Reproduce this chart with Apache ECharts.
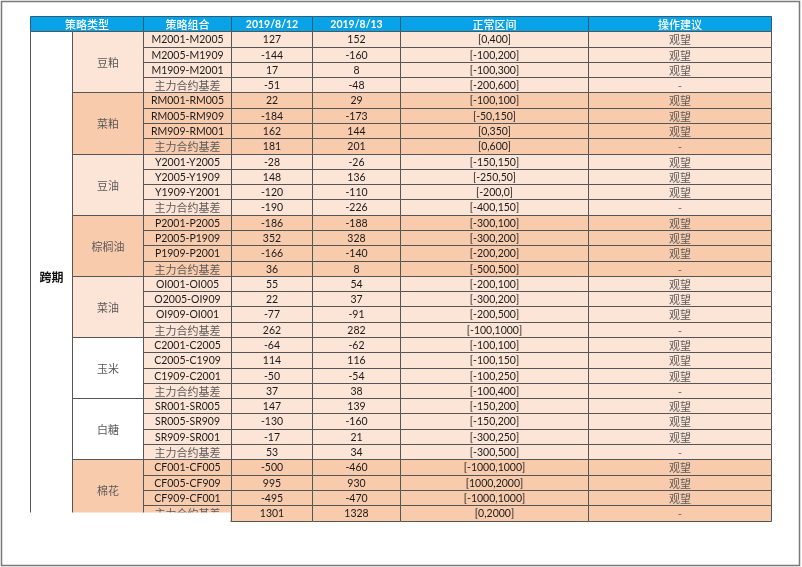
<!DOCTYPE html>
<html><head><meta charset="utf-8">
<script src="https://cdn.jsdelivr.net/npm/echarts@6/dist/echarts.min.js"></script>
<style>html,body{margin:0;padding:0;background:#fff}#c{width:802px;height:567px}</style>
</head><body><div id="c"></div>
<script>
const headers = ['策略类型','策略组合','2019/8/12','2019/8/13','正常区间','操作建议'];
const groupType = '跨期';
const products = ['豆粕','菜粕','豆油','棕榈油','菜油','玉米','白糖','棉花'];
const combos = [
 'M2001-M2005','M2005-M1909','M1909-M2001','主力合约基差',
 'RM001-RM005','RM005-RM909','RM909-RM001','主力合约基差',
 'Y2001-Y2005','Y2005-Y1909','Y1909-Y2001','主力合约基差',
 'P2001-P2005','P2005-P1909','P1909-P2001','主力合约基差',
 'OI001-OI005','O2005-OI909','OI909-OI001','主力合约基差',
 'C2001-C2005','C2005-C1909','C1909-C2001','主力合约基差',
 'SR001-SR005','SR005-SR909','SR909-SR001','主力合约基差',
 'CF001-CF005','CF005-CF909','CF909-CF001','主力合约基差'];
const v0812 = [127,-144,17,-51, 22,-184,162,181, -28,148,-120,-190, -186,352,-166,36,
               55,22,-77,262, -64,114,-50,37, 147,-130,-17,53, -500,995,-495,1301];
const v0813 = [152,-160,8,-48, 29,-173,144,201, -26,136,-110,-226, -188,328,-140,8,
               54,37,-91,282, -62,116,-54,38, 139,-160,21,34, -460,930,-470,1328];
const ranges = ['[0,400]','[-100,200]','[-100,300]','[-200,600]',
 '[-100,100]','[-50,150]','[0,350]','[0,600]',
 '[-150,150]','[-250,50]','[-200,0]','[-400,150]',
 '[-300,100]','[-300,200]','[-200,200]','[-500,500]',
 '[-200,100]','[-300,200]','[-200,500]','[-100,1000]',
 '[-100,100]','[-100,150]','[-100,250]','[-100,400]',
 '[-150,200]','[-150,200]','[-300,250]','[-300,500]',
 '[-1000,1000]','[1000,2000]','[-1000,1000]','[0,2000]'];
const advice = ['观望','观望','观望','-','观望','观望','观望','-','观望','观望','观望','-','观望','观望','观望','-',
 '观望','观望','观望','-','观望','观望','观望','-','观望','观望','观望','-','观望','观望','观望','-'];

// layout / style (not data)
const colEdges = [0,42,113,201,282,370,558,741];
const LIGHT = '#FCE4D6', DARK = '#F8CBAD', WHITE = '#FFFFFF', BLUE = '#08A2E6';
const groupFill = [LIGHT, DARK, LIGHT, DARK, LIGHT, LIGHT, LIGHT, DARK];
const productFill = [LIGHT, DARK, LIGHT, DARK, LIGHT, WHITE, WHITE, DARK];

const cells = [];
headers.forEach((h,i)=>{
  const isNum = /\d/.test(h);
  if(i===0) cells.push({c0:0,c1:2,r0:0,r1:1,text:h,fill:BLUE,kind:'head'});
  else cells.push({c0:i+1,c1:i+2,r0:0,r1:1,text:h,fill:BLUE,kind:isNum?'headNum':'head'});
});
cells.push({c0:0,c1:1,r0:1,r1:33,text:groupType,fill:WHITE,kind:'type'});
products.forEach((p,g)=>{
  cells.push({c0:1,c1:2,r0:1+4*g,r1:5+4*g,text:p,fill:productFill[g],kind:'cn'});
});
combos.forEach((cb,j)=>{
  const r = 1+j, f = groupFill[Math.floor(j/4)];
  const isCn = /[\u4e00-\u9fa5]/.test(cb);
  cells.push({c0:2,c1:3,r0:r,r1:r+1,text:cb,fill:f,kind:isCn?'cn':'num'});
  cells.push({c0:3,c1:4,r0:r,r1:r+1,text:String(v0812[j]),fill:f,kind:'num'});
  cells.push({c0:4,c1:5,r0:r,r1:r+1,text:String(v0813[j]),fill:f,kind:'num'});
  cells.push({c0:5,c1:6,r0:r,r1:r+1,text:ranges[j],fill:f,kind:'num'});
  cells.push({c0:6,c1:7,r0:r,r1:r+1,text:advice[j],fill:f,kind:'cn'});
});
// page-cut cover over the bottom-left part of the last row
cells.push({c0:0,c1:3,r0:32.47,r1:33.3,text:'',fill:WHITE,kind:'cover'});

const styles = {
  head:{color:'#FFFFFF',font:'500 11px "Noto Sans CJK SC", "Noto Sans", sans-serif'},
  headNum:{color:'#FFFFFF',font:'bold 10.5px Lato, "Noto Sans", sans-serif'},
  type:{color:'#111111',font:'bold 12px "Noto Sans CJK SC", sans-serif'},
  cn:{color:'#5a5a5a',font:'11px "Noto Sans CJK SC", sans-serif'},
  num:{color:'#1a1a1a',font:'10.5px Lato, "Noto Sans", sans-serif'}
};

const chart = echarts.init(document.getElementById('c'), null, {renderer:'canvas'});
chart.setOption({
  animation:false,
  graphic:[{type:'rect',shape:{x:1.5,y:1.5,width:798,height:564},style:{fill:'none',stroke:'#7a7a7a',lineWidth:1.5},silent:true,z:0}],
  grid:{left:30,right:31,top:16,bottom:46.5},
  xAxis:{type:'value',min:0,max:741,show:false},
  yAxis:{type:'value',min:0,max:33,inverse:true,show:false},
  series:[{
    type:'custom',
    data:cells.map(c=>[colEdges[c.c0],colEdges[c.c1],c.r0,c.r1]),
    renderItem:function(params, api){
      const c = cells[params.dataIndex];
      const p0 = api.coord([api.value(0), api.value(2)]);
      const p1 = api.coord([api.value(1), api.value(3)]);
      const x0 = Math.round(p0[0])+0.5, y0 = Math.round(p0[1])+0.5;
      const x1 = Math.round(p1[0])+0.5, y1 = Math.round(p1[1])+0.5;
      if(c.kind==='cover'){
        return {type:'rect',shape:{x:x0-2,y:y0,width:x1-x0+1,height:y1-y0+1},style:{fill:WHITE,stroke:null}};
      }
      const st = styles[c.kind];
      const isHead = c.kind==='head'||c.kind==='headNum';
      return {type:'group',children:[
        {type:'rect',shape:{x:x0,y:y0,width:x1-x0,height:y1-y0},
         style:{fill:c.fill,stroke:isHead?'#2a5f7a':'#555555',lineWidth:1}},
        {type:'text',x:(x0+x1)/2,y:(y0+y1)/2+0.5,
         style:{text:c.text,fill:st.color,font:st.font,align:'center',verticalAlign:'middle'}}
      ]};
    }
  }]
});
</script></body></html>
